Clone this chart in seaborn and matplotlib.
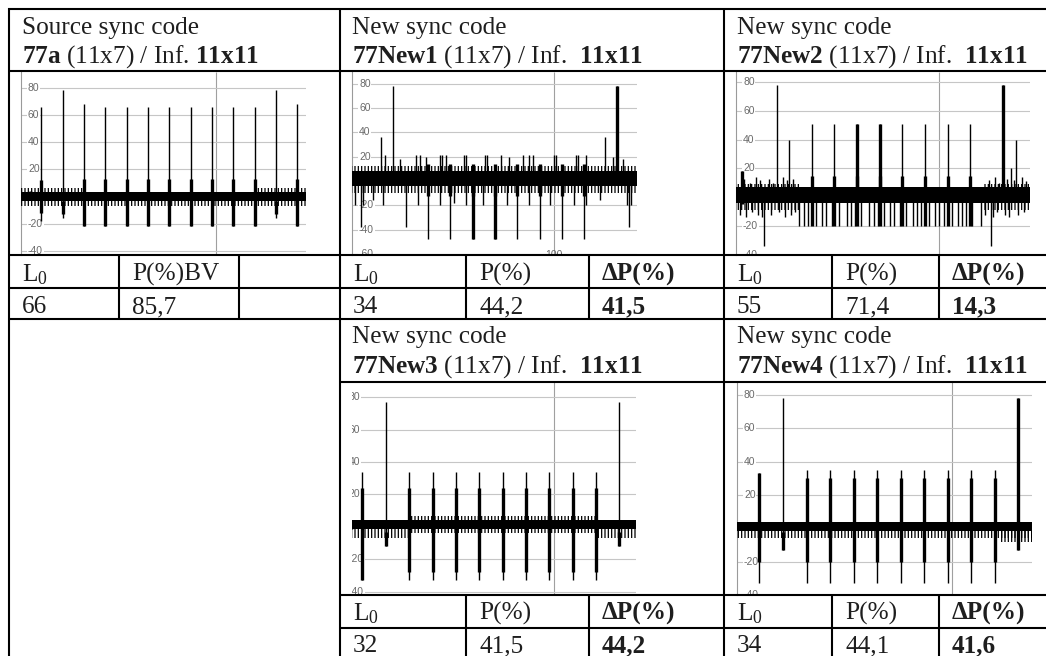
import numpy as np
import pandas as pd
import matplotlib
matplotlib.use("Agg")
import matplotlib.pyplot as plt
import seaborn as sns
from matplotlib.transforms import offset_copy

# ---------------- table text ----------------
head_top = ["Source sync code", "New sync code", "New sync code", "New sync code", "New sync code"]
head_code = [r"$\mathbf{77a}$ (11x7) / Inf. $\mathbf{11x11}$",
             r"$\mathbf{77New1}$ (11x7) / Inf.  $\mathbf{11x11}$",
             r"$\mathbf{77New2}$ (11x7) / Inf.  $\mathbf{11x11}$",
             r"$\mathbf{77New3}$ (11x7) / Inf.  $\mathbf{11x11}$",
             r"$\mathbf{77New4}$ (11x7) / Inf.  $\mathbf{11x11}$"]
p_heads = ["P(%)BV", "P(%)", "P(%)", "P(%)", "P(%)"]
dp_heads = ["", "ΔP(%)", "ΔP(%)", "ΔP(%)", "ΔP(%)"]
L0_vals = ["66", "34", "55", "32", "34"]
P_vals = ["85,7", "44,2", "71,4", "41,5", "44,1"]
dP_vals = ["", "41,5", "14,3", "44,2", "41,6"]

# ---------------- correlation panels (lag, level) ----------------
# 77a
a_thin_x = [10, 21, 32, 43, 54, 65, 76, 87, 98, 109, 120, 131, 142]
a_thin_lo = [-18, -16, -22, -22, -22, -22, -22, -22, -22, -22, -22, -16, -22]
a_thin_hi = [66, 78, 68, 66, 66, 66, 66, 66, 66, 66, 66, 78, 68]
a_thick_x = [10, 21, 32, 43, 54, 65, 76, 87, 98, 109, 120, 131, 142]
a_thick_lo = [-12, -13, -22, -22, -22, -22, -22, -22, -22, -22, -22, -13, -22]
a_thick_hi = [12, -3, 13, 13, 13, 13, 13, 13, 13, 13, 13, -3, 13]
a_band = [-3, 3]
a_comb_x0 = [-1, -1, 120]
a_comb_x1 = [148, 32, 148]
a_comb_lo = [-7, 3, 3]
a_comb_hi = [-3, 6, 6]

# 77New1
b_thin_x = [21, 131, 15, 125, 5, 27, 137, 38, 49, 60, 71, 82, 93, 104, 115,
            17, 24, 32, 34, 37, 44, 45, 47, 56, 57, 66, 67, 74, 78, 85, 88, 90, 100, 101, 111, 112, 116, 129, 134,
            2, 6, 11, 16, 33, 44, 51, 57, 65, 77, 88, 98, 110, 116, 123, 136, 138]
b_thin_lo = [0, 0, 0, 0, -38, -38, -38, -48, -48, -48, -48, -48, -48, -48, -48,
             0, 0, 0, 0, 0, 0, 0, 0, 0, 0, 0, 0, 0, 0, 0, 0, 0, 0, 0, 0, 0, 0, 0, 0,
             -20, -20, -16, -20, -20, -20, -18, -20, -20, -20, -20, -20, -20, -20, -16, -20, -20]
b_thin_hi = [78, 78, 36, 36, 0, 0, 0, 0, 0, 0, 0, 0, 0, 0, 0,
             21, 18, 21, 21, 20, 21, 21, 21, 21, 21, 21, 21, 21, 20, 21, 21, 21, 21, 21, 21, 21, 21, 20, 18,
             0, 0, 0, 0, 0, 0, 0, 0, 0, 0, 0, 0, 0, 0, 0, 0, 0]
b_thick_x = [38, 49, 60, 71, 82, 93, 104, 115, 131, 60, 71]
b_thick_lo = [-12, -12, -12, -12, -12, -12, -12, -12, 0, -48, -48]
b_thick_hi = [14, 14, 14, 14, 14, 14, 14, 14, 78, 0, 0]
b_band = [-4, 8]
b_comb_x0 = [0, 0]
b_comb_x1 = [142, 142]
b_comb_lo = [-10, 8]
b_comb_hi = [-4, 12]

# 77New2
c_thin_x = [21, 131, 38, 49, 60, 71, 82, 93, 104, 115, 27, 137, 15, 125, 4, 135,
            32, 34, 36, 40, 43, 45, 48, 51, 55, 57, 59, 62, 66, 68, 70, 73, 76, 78, 81, 84, 87, 89, 91, 95, 98,
            100, 102, 106, 109, 111, 113, 116, 120,
            5, 8, 11, 13, 17, 19, 24, 26, 29, 124, 127, 129, 133, 136, 140, 142,
            3, 6, 9, 12, 14, 18, 22, 25, 28, 30, 122, 126, 128, 132, 134, 138, 141]
c_thin_lo = [0, 0, 0, 0, 0, 0, 0, 0, 0, 0, 0, 0, -34, -34, 0, 0,
             -20, -20, -20, -20, -20, -20, -20, -20, -20, -20, -20, -20, -20, -20, -20, -20, -20, -20, -20, -20,
             -20, -20, -20, -20, -20, -20, -20, -20, -20, -20, -20, -20, -20,
             0, 0, 0, 0, 0, 0, 0, 0, 0, 0, 0, 0, 0, 0, 0, 0,
             -12, -14, -10, -12, -14, -12, -10, -14, -12, -10, -12, -14, -10, -12, -14, -12, -10]
c_thin_hi = [78, 78, 51, 51, 51, 51, 51, 51, 51, 51, 40, 40, 0, 0, 18, 20,
             0, 0, 0, 0, 0, 0, 0, 0, 0, 0, 0, 0, 0, 0, 0, 0, 0, 0, 0, 0, 0, 0, 0, 0, 0, 0, 0, 0, 0, 0, 0, 0, 0,
             13, 10, 14, 12, 13, 10, 14, 12, 13, 12, 14, 10, 13, 12, 14, 11,
             0, 0, 0, 0, 0, 0, 0, 0, 0, 0, 0, 0, 0, 0, 0, 0, 0]
c_thick_x = [38, 49, 60, 71, 82, 93, 104, 115, 131, 60, 71, 4]
c_thick_lo = [-20, -20, -20, -20, -20, -20, -20, -20, 0, 0, 0, -5]
c_thick_hi = [15, 15, 15, 15, 15, 15, 15, 15, 78, 51, 51, 18]
c_band = [-4, 7]
c_comb_x0 = [0, 121]
c_comb_x1 = [32, 146]
c_comb_lo = [-9, -9]
c_comb_hi = [9, 9]

# 77New3
d_thin_x = [21, 131, 10, 32, 43, 54, 65, 76, 87, 98, 109, 120]
d_thin_lo = [-12, -12, -33, -33, -33, -33, -33, -33, -33, -33, -33, -33]
d_thin_hi = [77, 77, 34, 34, 34, 34, 34, 34, 34, 34, 34, 34]
d_thick_x = [21, 131, 10, 32, 43, 54, 65, 76, 87, 98, 109, 120]
d_thick_lo = [-12, -12, -33, -28, -28, -28, -28, -28, -28, -28, -28, -28]
d_thick_hi = [-3, -3, 24, 24, 24, 24, 24, 24, 24, 24, 24, 24]
d_band = [-1.5, 4.5]
d_comb_x0 = [0, 120, 32, 32]
d_comb_x1 = [32, 140, 120, 120]
d_comb_lo = [-7, -7, 4.5, -4]
d_comb_hi = [-1.5, -1.5, 6.5, -1.5]

# 77New4
e_thin_x = [21, 131, 10, 32, 43, 54, 65, 76, 87, 98, 109, 120]
e_thin_lo = [-13, -13, -33, -33, -33, -33, -33, -33, -33, -33, -33, -33]
e_thin_hi = [78, 78, 33, 35, 35, 35, 35, 35, 35, 35, 35, 35]
e_thick_x = [21, 131, 10, 32, 43, 54, 65, 76, 87, 98, 109, 120]
e_thick_lo = [-13, -13, -20, -20, -20, -20, -20, -20, -20, -20, -20, -20]
e_thick_hi = [-2, 78, 33, 30, 30, 30, 30, 30, 30, 30, 30, 30]
e_band = [-1.8, 4]
e_comb_x0 = [-1, 122]
e_comb_x1 = [139, 139]
e_comb_lo = [-6, -8]
e_comb_hi = [-1.8, -1.8]

# ---------------- style ----------------
sns.set_theme(style="white")
plt.rcParams["font.family"] = ["Liberation Serif", "DejaVu Serif"]
plt.rcParams["mathtext.fontset"] = "custom"
plt.rcParams["mathtext.rm"] = "Liberation Serif"
plt.rcParams["mathtext.bf"] = "Liberation Serif:bold"
plt.rcParams["mathtext.it"] = "Liberation Serif:italic"
plt.rcParams["lines.solid_capstyle"] = "butt"
plt.rcParams["hatch.color"] = "black"
plt.rcParams["hatch.linewidth"] = 0.9

W, H = 1046, 656
fig = plt.figure(figsize=(W / 100, H / 100), dpi=100)
fig.patch.set_facecolor("white")


def px_axes(x0, x1, y0, y1, z=1):
    return fig.add_axes([x0 / W, 1 - y1 / H, (x1 - x0) / W, (y1 - y0) / H], zorder=z)


def stroke_frame(xs, los, his):
    n = len(xs)
    return pd.DataFrame({"id": list(range(n)) * 2, "x": list(xs) * 2, "y": list(los) + list(his)})


def corr_panel(rect, xlim, ylim, ticks, thin, thick, band, combs, axis_at=0.0, spine=True, xlab=False):
    ax = px_axes(*rect)
    sns.lineplot(data=stroke_frame(*thin), x="x", y="y", units="id", estimator=None, sort=False,
                 color="black", lw=1.0, ax=ax, zorder=3)
    sns.lineplot(data=stroke_frame(*thick), x="x", y="y", units="id", estimator=None, sort=False,
                 color="black", lw=2.4, ax=ax, zorder=3)
    ax.fill_between(list(xlim), band[0], band[1], color="black", lw=0, zorder=2.8)
    for x0, x1, lo, hi in zip(*combs):
        ax.fill_between([x0, x1], lo, hi, facecolor="none", edgecolor="black", hatch="|||||", lw=0, zorder=2.7)
    ax.set_xlim(*xlim)
    ax.set_ylim(*ylim)
    ax.set_xlabel("")
    ax.set_ylabel("")
    ax.set_yticks(ticks)
    ax.set_xticks([100])
    ax.tick_params(length=0, labelleft=False, labelbottom=False)
    ax.grid(axis="y", color="#c6c6c6", lw=0.8)
    ax.grid(axis="x", color="#a0a0a0", lw=0.8)
    ax.set_axisbelow(True)
    for s in ax.spines.values():
        s.set_visible(False)
    if spine:
        ax.spines["left"].set_visible(True)
        ax.spines["left"].set_color("#9a9a9a")
        ax.spines["left"].set_linewidth(0.8)
    tr = offset_copy(ax.get_yaxis_transform(), fig=fig, x=7, y=0, units="dots")
    for t in ticks:
        ax.text(axis_at, t, str(t), transform=tr, ha="left", va="center", fontsize=7.5,
                family="Liberation Sans", color="#6a6a6a", clip_on=True, zorder=2.5,
                bbox=dict(facecolor="white", edgecolor="none", pad=0.6))
    if xlab:
        ax.text(100, ylim[0], "100", ha="center", va="center", fontsize=7.5, family="Liberation Sans",
                color="#6a6a6a", clip_on=True, zorder=2.5)
    return ax


corr_panel((21, 306, 72, 255), (-0.5, 146.4), (-43, 91.5), [-40, -20, 0, 20, 40, 60, 80],
           (a_thin_x, a_thin_lo, a_thin_hi), (a_thick_x, a_thick_lo, a_thick_hi), a_band,
           (a_comb_x0, a_comb_x1, a_comb_lo, a_comb_hi))
corr_panel((352, 637, 72, 255), (0.6, 141), (-60.8, 89.6), [-60, -40, -20, 0, 20, 40, 60, 80],
           (b_thin_x, b_thin_lo, b_thin_hi), (b_thick_x, b_thick_lo, b_thick_hi), b_band,
           (b_comb_x0, b_comb_x1, b_comb_lo, b_comb_hi), xlab=True)
corr_panel((736, 1030, 72, 255), (1.2, 144), (-40, 86.8), [-40, -20, 0, 20, 40, 60, 80],
           (c_thin_x, c_thin_lo, c_thin_hi), (c_thick_x, c_thick_lo, c_thick_hi), c_band,
           (c_comb_x0, c_comb_x1, c_comb_lo, c_comb_hi))
corr_panel((352, 636, 382, 595), (5.1, 138.8), (-42, 89.4), [-40, -20, 0, 20, 40, 60, 80],
           (d_thin_x, d_thin_lo, d_thin_hi), (d_thick_x, d_thick_lo, d_thick_hi), d_band,
           (d_comb_x0, d_comb_x1, d_comb_lo, d_comb_hi), axis_at=-0.036, spine=False)
corr_panel((737, 1032, 382, 595), (-0.5, 137.4), (-38.3, 87.7), [-40, -20, 0, 20, 40, 60, 80],
           (e_thin_x, e_thin_lo, e_thin_hi), (e_thick_x, e_thick_lo, e_thick_hi), e_band,
           (e_comb_x0, e_comb_x1, e_comb_lo, e_comb_hi))

# ---------------- table grid and text ----------------
tab = px_axes(0, W, 0, H, z=10)
tab.set_xlim(0, W)
tab.set_ylim(H, 0)
tab.axis("off")
lw = 1.5
for y in [9, 71, 255, 288, 319]:
    tab.hlines(y, 8, W, color="black", lw=lw)
for y in [382, 595, 628]:
    tab.hlines(y, 339, W, color="black", lw=lw)
for x in [9, 340, 724]:
    tab.vlines(x, 8, H, color="black", lw=lw)
for x in [119, 239, 466, 589, 832, 939]:
    tab.vlines(x, 254, 320, color="black", lw=lw)
for x in [466, 589, 832, 939]:
    tab.vlines(x, 594, H, color="black", lw=lw)

tc = "#1e1e1e"
fs = 18.2
# header cells: (x, top baseline, code baseline)
head_pos = [(22, 34, 63), (352, 34, 63), (737, 34, 63), (352, 343, 373), (737, 343, 373)]
# L0 / P / dP cells: (x_L0, x_P, x_dP, head baseline, value baseline)
cell_pos = [(22, 132, 252, 281, 313), (353, 479, 602, 281, 313), (737, 845, 952, 281, 313),
            (353, 479, 602, 620, 652), (737, 845, 952, 620, 652)]
for i in range(5):
    hx, hy1, hy2 = head_pos[i]
    tab.text(hx, hy1, head_top[i], fontsize=fs, color=tc, va="baseline")
    tab.text(hx, hy2, head_code[i], fontsize=fs, color=tc, va="baseline")
    x0, x1, x2, yh, yv = cell_pos[i]
    tab.text(x0, yh, r"L$_{\mathregular{0}}$", fontsize=fs, color=tc, va="baseline")
    tab.text(x1, yh, p_heads[i], fontsize=fs, color=tc, va="baseline")
    tab.text(x2, yh, dp_heads[i], fontsize=fs, color=tc, va="baseline", fontweight="bold")
    tab.text(x0, yv, L0_vals[i], fontsize=fs, color=tc, va="baseline")
    tab.text(x1, yv, P_vals[i], fontsize=fs, color=tc, va="baseline")
    tab.text(x2, yv, dP_vals[i], fontsize=fs, color=tc, va="baseline", fontweight="bold")

fig.savefig("out.png", dpi=100)
